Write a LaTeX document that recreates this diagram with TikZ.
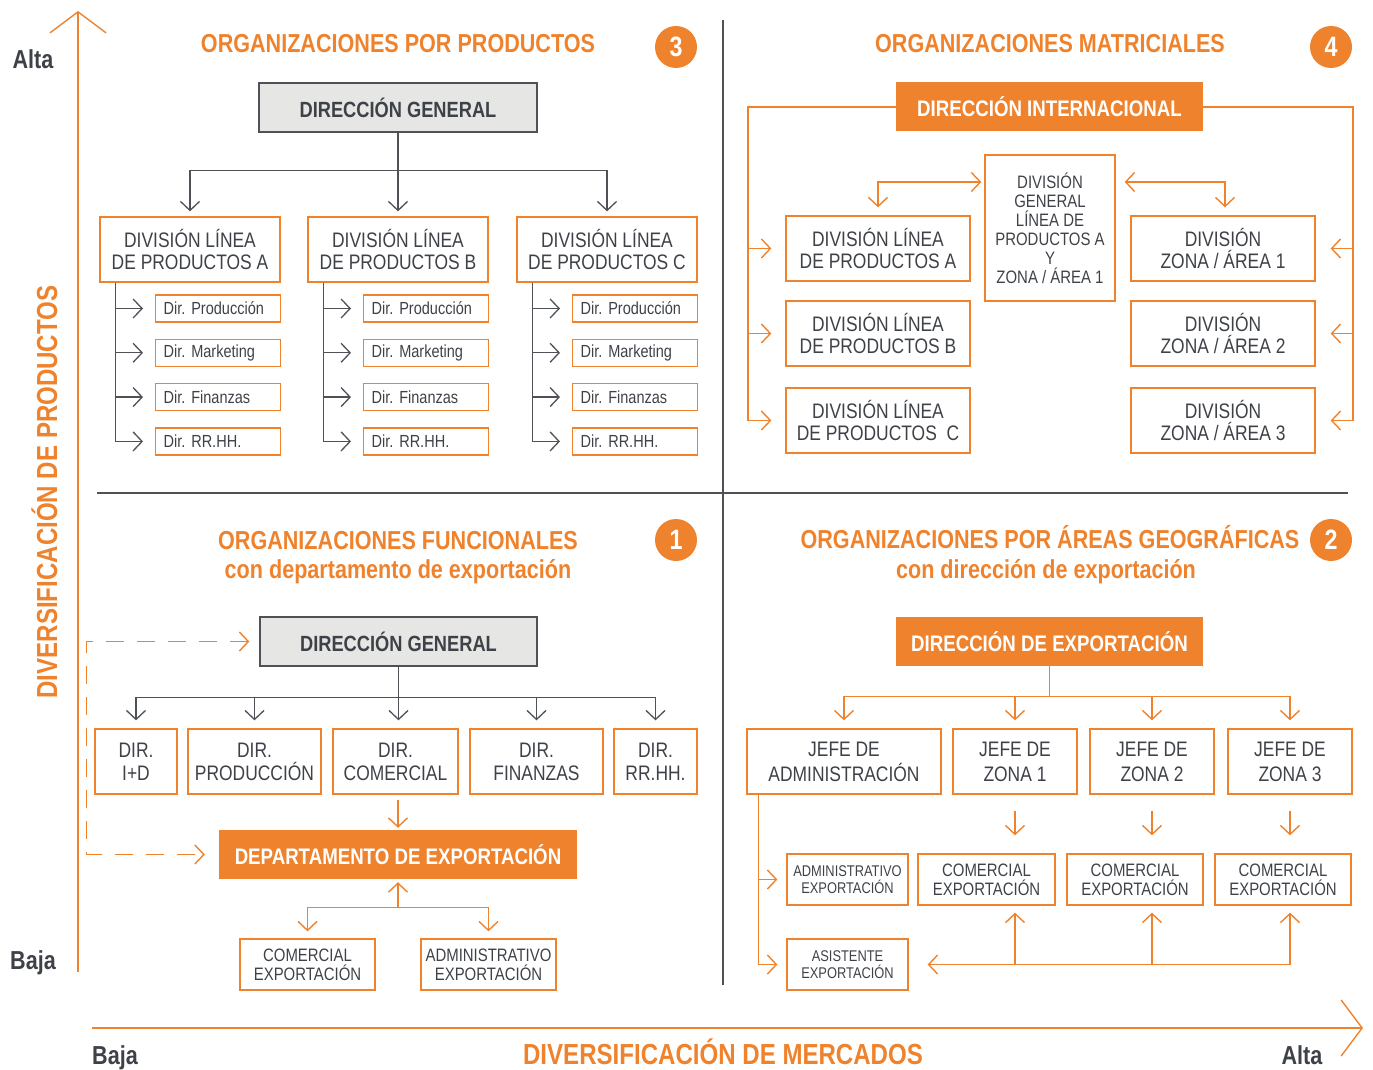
\documentclass[tikz,border=0pt]{standalone}
\usepackage{fontspec}
\setmainfont{Liberation Sans}[FakeStretch=0.83]
\usetikzlibrary{positioning, arrows.meta}

\definecolor{orng}{RGB}{239,130,44}
\definecolor{dtext}{RGB}{62,66,72}
\definecolor{gline}{RGB}{78,82,87}
\definecolor{gfill}{RGB}{230,231,229}

\frenchspacing

\begin{document}
\begin{tikzpicture}[%
		x=1pt, y=-1pt,
		node distance=16pt,
		>={Straight Barb[length=9pt,width=19pt]},
		gbox/.style={
			rectangle,
			draw=gline,
			fill=gfill,
			line width=1.3pt,
			text=dtext,
			minimum width=278pt,
			minimum height=49pt,
			font=\fontsize{22}{24}\selectfont\bfseries
		},
		obox/.style={
			rectangle,
			fill=orng,
			text=white,
			minimum width=307pt,
			minimum height=49pt,
			font=\fontsize{22.5}{24}\selectfont\bfseries
		},
		wbox/.style={
			rectangle,
			draw=orng,
			line width=1.3pt,
			text=dtext,
			align=center,
			inner sep=0pt,
			minimum height=65pt,
			font=\fontsize{21}{22}\selectfont
		},
		dirbox/.style={
			wbox,
			font=\fontsize{21}{23}\selectfont
		},
		jefebox/.style={
			wbox,
			font=\fontsize{21}{25}\selectfont
		},
		midbox/.style={
			wbox,
			minimum height=51pt,
			font=\fontsize{18}{19}\selectfont
		},
		smallbox/.style={
			wbox,
			minimum height=51pt,
			minimum width=121pt,
			font=\fontsize{15.5}{17}\selectfont
		},
		subbox/.style={
			rectangle,
			draw=orng,
			line width=1.3pt,
			text=dtext,
			align=left,
			text width=109pt,
			inner xsep=8pt,
			inner ysep=0pt,
			minimum height=27pt,
			font=\fontsize{17.5}{19}\selectfont
		},
		ttl/.style={
			anchor=base,
			text=orng,
			font=\fontsize{26}{28}\selectfont\bfseries
		},
		numcirc/.style={
			circle,
			fill=orng,
			text=white,
			inner sep=0pt,
			minimum size=42pt,
			font=\fontsize{28}{28}\selectfont\bfseries
		},
		axlbl/.style={
			anchor=base,
			text=dtext,
			font=\fontsize{26}{28}\selectfont\bfseries
		},
		axttl/.style={
			anchor=base,
			text=orng,
			font=\fontsize{29}{30}\selectfont\bfseries
		},
		garrow/.style={
			draw=gline,
			line width=1.3pt,
			->
		},
		oarrow/.style={
			draw=orng,
			line width=1.4pt,
			->
		},
		tree/.style={
			garrow,
			shorten >=12pt
		},
		axarrow/.style={
			draw=orng,
			line width=1.4pt,
			-{Straight Barb[length=21pt,width=56pt]}
		},
		sep/.style={
			draw=gline,
			line width=1.2pt
		}]

		\useasboundingbox (0,0) rectangle (1373,1070);

		% AXES

		\coordinate (vbot) at (78,972);
		\coordinate (vtop) at (78,11);
		\coordinate (hleft) at (92,1028);
		\coordinate (hright) at (1363,1028);
		\draw[axarrow] (vbot) -- (vtop);
		\draw[axarrow] (hleft) -- (hright);

		\node[axlbl] (altaV) at (33,69) {Alta};
		\node[axlbl] (bajaV) at (33,969) {Baja};
		\node[axlbl] (bajaH) at (115,1064) {Baja};
		\node[axlbl] (altaH) at (1302,1064) {Alta};
		\node[axttl, rotate=90] (divprod) at (57,492) {DIVERSIFICACIÓN DE PRODUCTOS};
		\node[axttl] (divmerc) at (723,1064) {DIVERSIFICACIÓN DE MERCADOS};

		% QUADRANT LINES

		\coordinate (vsepT) at (723,20);
		\coordinate (vsepB) at (723,985);
		\coordinate (hsepL) at (97,493);
		\coordinate (hsepR) at (1348,493);
		\draw[sep] (vsepT) -- (vsepB);
		\draw[sep] (hsepL) -- (hsepR);

		% 3 - POR PRODUCTOS

		\node[ttl] (ttl3) at (398,53) {ORGANIZACIONES POR PRODUCTOS};
		\node[numcirc] (num3) at (676,47) {3};
		\node[gbox] (dg3) at (398,107.5) {DIRECCIÓN GENERAL};

		\node[wbox, minimum width=180pt] (lpA) at (190,249.5) {DIVISIÓN LÍNEA\\DE PRODUCTOS A};
		\node[wbox, minimum width=180pt] (lpB) at (398,249.5) {DIVISIÓN LÍNEA\\DE PRODUCTOS B};
		\node[wbox, minimum width=180pt] (lpC) at (607,249.5) {DIVISIÓN LÍNEA\\DE PRODUCTOS C};

		\node[subbox, anchor=west] (pA1) at (155,308.5) {Dir. Producción};
		\node[subbox, below=of pA1] (pA2) {Dir. Marketing};
		\node[subbox, below=of pA2] (pA3) {Dir. Finanzas};
		\node[subbox, below=of pA3] (pA4) {Dir. RR.HH.};

		\node[subbox, anchor=west] (pB1) at (363,308.5) {Dir. Producción};
		\node[subbox, below=of pB1] (pB2) {Dir. Marketing};
		\node[subbox, below=of pB2] (pB3) {Dir. Finanzas};
		\node[subbox, below=of pB3] (pB4) {Dir. RR.HH.};

		\node[subbox, anchor=west] (pC1) at (572,308.5) {Dir. Producción};
		\node[subbox, below=of pC1] (pC2) {Dir. Marketing};
		\node[subbox, below=of pC2] (pC3) {Dir. Finanzas};
		\node[subbox, below=of pC3] (pC4) {Dir. RR.HH.};

		\draw[garrow, shorten >=5pt] (dg3.south) -- ++(0,38) -| (lpA.north);
		\draw[garrow, shorten >=5pt] (dg3.south) -- (lpB.north);
		\draw[garrow, shorten >=5pt] (dg3.south) -- ++(0,38) -| (lpC.north);

		\draw[tree] ([xshift=16pt]lpA.south west) |- (pA1.west);
		\draw[tree] ([xshift=16pt]lpA.south west) |- (pA2.west);
		\draw[tree] ([xshift=16pt]lpA.south west) |- (pA3.west);
		\draw[tree] ([xshift=16pt]lpA.south west) |- (pA4.west);

		\draw[tree] ([xshift=16pt]lpB.south west) |- (pB1.west);
		\draw[tree] ([xshift=16pt]lpB.south west) |- (pB2.west);
		\draw[tree] ([xshift=16pt]lpB.south west) |- (pB3.west);
		\draw[tree] ([xshift=16pt]lpB.south west) |- (pB4.west);

		\draw[tree] ([xshift=16pt]lpC.south west) |- (pC1.west);
		\draw[tree] ([xshift=16pt]lpC.south west) |- (pC2.west);
		\draw[tree] ([xshift=16pt]lpC.south west) |- (pC3.west);
		\draw[tree] ([xshift=16pt]lpC.south west) |- (pC4.west);

		% 4 - MATRICIALES

		\node[ttl] (ttl4) at (1050,53) {ORGANIZACIONES MATRICIALES};
		\node[numcirc] (num4) at (1331,47) {4};
		\node[obox] (di4) at (1049.5,107) {DIRECCIÓN INTERNACIONAL};

		\node[wbox, minimum width=184pt] (mlA) at (878,248.5) {DIVISIÓN LÍNEA\\DE PRODUCTOS A};
		\node[wbox, minimum width=184pt] (mlB) at (878,333.5) {DIVISIÓN LÍNEA\\DE PRODUCTOS B};
		\node[wbox, minimum width=184pt] (mlC) at (878,420.5) {DIVISIÓN LÍNEA\\DE PRODUCTOS\ \ C};

		\node[wbox, minimum width=130pt, minimum height=146pt, font=\fontsize{18}{19}\selectfont] (mc) at (1050,228) {DIVISIÓN\\GENERAL\\LÍNEA DE\\PRODUCTOS A\\Y\\ZONA / ÁREA 1};

		\node[wbox, minimum width=184pt] (mzA) at (1223,248.5) {DIVISIÓN\\ZONA / ÁREA 1};
		\node[wbox, minimum width=184pt] (mzB) at (1223,333.5) {DIVISIÓN\\ZONA / ÁREA 2};
		\node[wbox, minimum width=184pt] (mzC) at (1223,420.5) {DIVISIÓN\\ZONA / ÁREA 3};

		\coordinate (l4) at (748,107);
		\coordinate (r4) at (1353,107);
		\draw[oarrow, shorten >=14pt] (di4.west) -- (l4) |- (mlA.west);
		\draw[oarrow, shorten >=14pt] (di4.west) -- (l4) |- (mlB.west);
		\draw[oarrow, shorten >=14pt] (di4.west) -- (l4) |- (mlC.west);
		\draw[oarrow, shorten >=15pt] (di4.east) -- (r4) |- (mzA.east);
		\draw[oarrow, shorten >=15pt] (di4.east) -- (r4) |- (mzB.east);
		\draw[oarrow, shorten >=15pt] (di4.east) -- (r4) |- (mzC.east);

		\draw[oarrow, <->, shorten <=3pt, shorten >=8pt] ([yshift=46pt]mc.west) -| (mlA.north);
		\draw[oarrow, <->, shorten <=9pt, shorten >=8pt] ([yshift=46pt]mc.east) -| ([xshift=2pt]mzA.north);

		% 1 - FUNCIONALES

		\node[ttl] (ttl1) at (398,549) {ORGANIZACIONES FUNCIONALES};
		\node[ttl] (sub1) at (398,578) {con departamento de exportación};
		\node[numcirc] (num1) at (676,540) {1};
		\node[gbox, minimum width=277pt] (dg1) at (398.5,641.5) {DIRECCIÓN GENERAL};

		\node[dirbox, minimum width=82pt] (fID) at (136,761.5) {DIR.\\I+D};
		\node[dirbox, minimum width=133pt] (fPR) at (254.5,761.5) {DIR.\\PRODUCCIÓN};
		\node[dirbox, minimum width=125pt] (fCO) at (395.5,761.5) {DIR.\\COMERCIAL};
		\node[dirbox, minimum width=133pt] (fFI) at (536.5,761.5) {DIR.\\FINANZAS};
		\node[dirbox, minimum width=83pt] (fRH) at (655.5,761.5) {DIR.\\RR.HH.};

		\node[obox, minimum width=358pt] (dep) at (398,854.5) {DEPARTAMENTO DE EXPORTACIÓN};

		\node[midbox, minimum width=135pt] (cEx1) at (307.5,964.5) {COMERCIAL\\EXPORTACIÓN};
		\node[midbox, minimum width=135pt] (aEx1) at (488.5,964.5) {ADMINISTRATIVO\\EXPORTACIÓN};

		\draw[garrow, shorten >=8pt] (dg1.south) -- ++(0,31) -| (fID.north);
		\draw[garrow, shorten >=8pt] (dg1.south) -- ++(0,31) -| (fPR.north);
		\draw[garrow, shorten >=8pt] (dg1.south) -- (dg1.south |- fCO.north);
		\draw[garrow, shorten >=8pt] (dg1.south) -- ++(0,31) -| (fFI.north);
		\draw[garrow, shorten >=8pt] (dg1.south) -- ++(0,31) -| (fRH.north);

		\draw[oarrow, shorten <=5pt, shorten >=2pt] (dep.north |- fCO.south) -- (dep.north);

		\draw[oarrow, dashed, dash pattern=on 18pt off 13pt, <->, shorten <=10pt, shorten >=14pt] (dg1.west) -- ++(-173,0) |- (dep.west);

		\draw[oarrow, <->, shorten <=7pt, shorten >=3pt] (cEx1.north) |- ([yshift=-28pt]dep.south) -- (dep.south);
		\draw[oarrow, shorten >=7pt] ([yshift=-28pt]dep.south) -| (aEx1.north);

		% 2 - POR AREAS GEOGRAFICAS

		\node[ttl] (ttl2) at (1050,548) {ORGANIZACIONES POR ÁREAS GEOGRÁFICAS};
		\node[ttl] (sub2) at (1046,578) {con dirección de exportación};
		\node[numcirc] (num2) at (1331,540) {2};
		\node[obox] (de2) at (1049.5,641.5) {DIRECCIÓN DE EXPORTACIÓN};

		\node[jefebox, minimum width=194pt] (jAD) at (844,761.5) {JEFE DE\\ADMINISTRACIÓN};
		\node[jefebox, minimum width=124pt] (jZ1) at (1015,761.5) {JEFE DE\\ZONA 1};
		\node[jefebox, minimum width=124pt] (jZ2) at (1152,761.5) {JEFE DE\\ZONA 2};
		\node[jefebox, minimum width=124pt] (jZ3) at (1290,761.5) {JEFE DE\\ZONA 3};

		\node[smallbox] (aEx2) at (847.5,879.5) {ADMINISTRATIVO\\EXPORTACIÓN};
		\node[midbox, minimum width=137pt] (cZ1) at (986.5,879.5) {COMERCIAL\\EXPORTACIÓN};
		\node[midbox, minimum width=136pt] (cZ2) at (1135,879.5) {COMERCIAL\\EXPORTACIÓN};
		\node[midbox, minimum width=136pt] (cZ3) at (1283,879.5) {COMERCIAL\\EXPORTACIÓN};
		\node[smallbox] (asis) at (847.5,964.5) {ASISTENTE\\EXPORTACIÓN};

		\draw[oarrow, shorten >=8pt] (de2.south) -- ++(0,30) -| (jAD.north);
		\draw[oarrow, shorten >=8pt] (de2.south) -- ++(0,30) -| (jZ1.north);
		\draw[oarrow, shorten >=8pt] (de2.south) -- ++(0,30) -| (jZ2.north);
		\draw[oarrow, shorten >=8pt] (de2.south) -- ++(0,30) -| (jZ3.north);

		\draw[oarrow, shorten <=16pt, shorten >=18pt] (jZ1.south) -- (jZ1.south |- cZ1.north);
		\draw[oarrow, shorten <=16pt, shorten >=18pt] (jZ2.south) -- (jZ2.south |- cZ2.north);
		\draw[oarrow, shorten <=16pt, shorten >=18pt] (jZ3.south) -- (jZ3.south |- cZ3.north);

		\draw[oarrow, shorten >=9pt] ([xshift=12pt]jAD.south west) |- (aEx2.west);
		\draw[oarrow, shorten >=9pt] ([xshift=12pt]jAD.south west) |- (asis.west);

		\coordinate (bZ1) at (jZ1.south |- asis.east);
		\coordinate (bZ2) at (jZ2.south |- asis.east);
		\coordinate (bZ3) at (jZ3.south |- asis.east);
		\draw[oarrow, shorten >=19pt] (bZ3) -- (asis.east);
		\draw[oarrow, shorten >=7pt] (bZ1) -- (bZ1 |- cZ1.south);
		\draw[oarrow, shorten >=7pt] (bZ2) -- (bZ2 |- cZ2.south);
		\draw[oarrow, shorten >=7pt] (bZ3) -- (bZ3 |- cZ3.south);
\end{tikzpicture}
\end{document}
